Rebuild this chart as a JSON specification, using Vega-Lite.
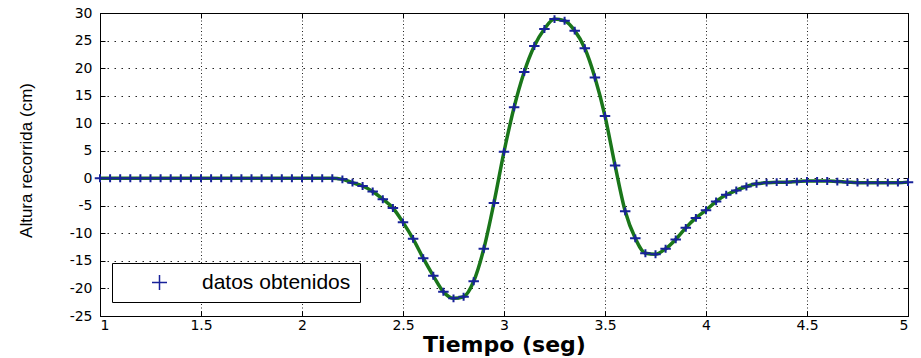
{
  "$schema": "https://vega.github.io/schema/vega-lite/v6.json",
  "width": 808,
  "height": 303,
  "autosize": {"type": "none"},
  "padding": {"left": 100, "top": 13, "right": 13, "bottom": 42},
  "background": "white",
  "config": {
    "view": {"stroke": "black", "strokeWidth": 1},
    "axis": {
      "domainColor": "black",
      "tickColor": "black",
      "labelColor": "black",
      "titleColor": "black",
      "labelFont": "DejaVu Sans",
      "labelFontSize": 14,
      "gridColor": "#222222",
      "gridOpacity": 1,
      "gridWidth": 1
    }
  },
  "data": {
    "values": [
      {"t": 1.00, "h": 0}, {"t": 1.05, "h": 0}, {"t": 1.10, "h": 0}, {"t": 1.15, "h": 0},
      {"t": 1.20, "h": 0}, {"t": 1.25, "h": 0}, {"t": 1.30, "h": 0}, {"t": 1.35, "h": 0},
      {"t": 1.40, "h": 0}, {"t": 1.45, "h": 0}, {"t": 1.50, "h": 0}, {"t": 1.55, "h": 0},
      {"t": 1.60, "h": 0}, {"t": 1.65, "h": 0}, {"t": 1.70, "h": 0}, {"t": 1.75, "h": 0},
      {"t": 1.80, "h": 0}, {"t": 1.85, "h": 0}, {"t": 1.90, "h": 0}, {"t": 1.95, "h": 0},
      {"t": 2.00, "h": 0}, {"t": 2.05, "h": 0}, {"t": 2.10, "h": 0}, {"t": 2.15, "h": 0},
      {"t": 2.20, "h": -0.2}, {"t": 2.25, "h": -0.8}, {"t": 2.30, "h": -1.4}, {"t": 2.35, "h": -2.4},
      {"t": 2.40, "h": -3.8}, {"t": 2.45, "h": -5.4}, {"t": 2.50, "h": -8.0}, {"t": 2.55, "h": -11.0},
      {"t": 2.60, "h": -14.5}, {"t": 2.65, "h": -17.7}, {"t": 2.70, "h": -20.6}, {"t": 2.75, "h": -21.8},
      {"t": 2.80, "h": -21.5}, {"t": 2.85, "h": -18.7}, {"t": 2.90, "h": -12.8}, {"t": 2.95, "h": -4.5},
      {"t": 3.00, "h": 4.8}, {"t": 3.05, "h": 12.9}, {"t": 3.10, "h": 19.3}, {"t": 3.15, "h": 24.0},
      {"t": 3.20, "h": 27.1}, {"t": 3.25, "h": 28.9}, {"t": 3.30, "h": 28.6}, {"t": 3.35, "h": 26.8},
      {"t": 3.40, "h": 23.6}, {"t": 3.45, "h": 18.3}, {"t": 3.50, "h": 11.3}, {"t": 3.55, "h": 2.3},
      {"t": 3.60, "h": -6.0}, {"t": 3.65, "h": -10.9}, {"t": 3.70, "h": -13.6}, {"t": 3.75, "h": -13.8},
      {"t": 3.80, "h": -12.8}, {"t": 3.85, "h": -11.1}, {"t": 3.90, "h": -9.0}, {"t": 3.95, "h": -7.2},
      {"t": 4.00, "h": -5.8}, {"t": 4.05, "h": -4.2}, {"t": 4.10, "h": -3.0}, {"t": 4.15, "h": -2.2},
      {"t": 4.20, "h": -1.5}, {"t": 4.25, "h": -1.0}, {"t": 4.30, "h": -0.8}, {"t": 4.35, "h": -0.7},
      {"t": 4.40, "h": -0.7}, {"t": 4.45, "h": -0.6}, {"t": 4.50, "h": -0.5}, {"t": 4.55, "h": -0.5},
      {"t": 4.60, "h": -0.5}, {"t": 4.65, "h": -0.6}, {"t": 4.70, "h": -0.7}, {"t": 4.75, "h": -0.8},
      {"t": 4.80, "h": -0.8}, {"t": 4.85, "h": -0.8}, {"t": 4.90, "h": -0.8}, {"t": 4.95, "h": -0.8},
      {"t": 5.00, "h": -0.7}
    ]
  },
  "layer": [
    {
      "mark": {"type": "line", "color": "#1a761a", "strokeWidth": 3.5, "interpolate": "monotone"},
      "encoding": {
        "x": {
          "field": "t", "type": "quantitative",
          "scale": {"domain": [1, 5], "nice": false, "zero": false},
          "axis": {
            "orient": "bottom",
            "values": [1, 1.5, 2, 2.5, 3, 3.5, 4, 4.5, 5],
            "labelExpr": "'' + datum.value",
            "tickSize": -5,
            "labelPadding": 7,
            "labelBaseline": "top",
            "grid": true,
            "gridDash": [1, 2.5],
            "title": "Tiempo (seg)",
            "titleFont": "DejaVu Sans",
            "titleFontWeight": "bold",
            "titleFontSize": 22,
            "titleBaseline": "alphabetic",
            "titleX": 404,
            "titleY": 35
          }
        },
        "y": {
          "field": "h", "type": "quantitative",
          "scale": {"domain": [-25, 30], "nice": false, "zero": false},
          "axis": {
            "orient": "left",
            "values": [-25, -20, -15, -10, -5, 0, 5, 10, 15, 20, 25, 30],
            "labelExpr": "'' + datum.value",
            "tickSize": -5,
            "labelPadding": 13,
            "grid": true,
            "gridDash": [1.5, 5.5],
            "title": "Altura recorrida (cm)",
            "titleFont": "Liberation Sans",
            "titleFontWeight": "normal",
            "titleFontSize": 17,
            "titleAngle": -90,
            "titleAlign": "center",
            "titleBaseline": "middle",
            "titleX": -74,
            "titleY": 147
          }
        }
      }
    },
    {
      "mark": {"type": "point", "shape": "M-1,0H1M0,-0.75V0.75", "filled": false, "strokeWidth": 2, "size": 110, "opacity": 1},
      "encoding": {
        "x": {
          "field": "t", "type": "quantitative",
          "axis": {"orient": "top", "values": [1, 1.5, 2, 2.5, 3, 3.5, 4, 4.5, 5], "labels": false, "title": null, "grid": false, "tickSize": -5}
        },
        "y": {
          "field": "h", "type": "quantitative",
          "axis": {"orient": "right", "values": [-25, -20, -15, -10, -5, 0, 5, 10, 15, 20, 25, 30], "labels": false, "title": null, "grid": false, "tickSize": -5}
        },
        "color": {
          "datum": "datos obtenidos",
          "type": "nominal",
          "scale": {"range": ["#18229a"]},
          "legend": {
            "orient": "none",
            "legendX": 12,
            "legendY": 250,
            "title": null,
            "strokeColor": "black",
            "fillColor": "white",
            "padding": 9,
            "cornerRadius": 0,
            "symbolType": "M-1,0H1M0,-1V1",
            "symbolSize": 225,
            "symbolStrokeWidth": 1.5,
            "symbolStrokeColor": "#2a2ad0",
            "symbolFillColor": "transparent",
            "symbolOffset": 28,
            "labelOffset": 32,
            "labelFont": "Liberation Sans",
            "labelFontSize": 21,
            "labelColor": "black"
          }
        }
      }
    }
  ],
  "resolve": {"axis": {"x": "independent", "y": "independent"}}
}
